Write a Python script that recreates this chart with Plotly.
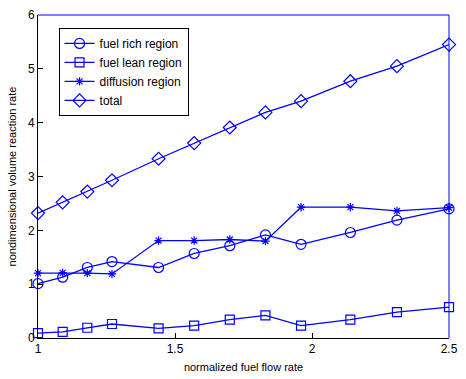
import plotly.graph_objects as go

x = [1.0, 1.09, 1.18, 1.27, 1.44, 1.57, 1.70, 1.83, 1.96, 2.14, 2.31, 2.5]
fuel_rich = [1.01, 1.13, 1.31, 1.42, 1.31, 1.57, 1.715, 1.915, 1.74, 1.96, 2.19, 2.40]
fuel_lean = [0.09, 0.115, 0.19, 0.26, 0.18, 0.23, 0.34, 0.42, 0.23, 0.34, 0.48, 0.575]
diffusion = [1.205, 1.21, 1.205, 1.19, 1.81, 1.81, 1.83, 1.80, 2.43, 2.43, 2.36, 2.42]
total = [2.32, 2.52, 2.72, 2.93, 3.33, 3.62, 3.91, 4.19, 4.40, 4.77, 5.05, 5.45]

names = ["fuel rich region", "fuel lean region", "diffusion region", "total"]
series = [fuel_rich, fuel_lean, diffusion, total]
symbols = ["circle-open", "square-open", "asterisk-open", "diamond-open"]
sizes = [10, 9, 7, 10]

blue = "#0000ff"
fig = go.Figure()
for n, s, sym, sz in zip(names, series, symbols, sizes):
    fig.add_trace(go.Scatter(
        x=x, y=s, name=n, mode="lines+markers", cliponaxis=False,
        line=dict(color=blue, width=1.3),
        marker=dict(symbol=sym, size=sz, color=blue, line=dict(color=blue, width=1.2)),
    ))

fig.update_layout(
    width=466, height=379,
    margin=dict(l=38, r=8, t=12, b=36),
    paper_bgcolor="white", plot_bgcolor="white",
    font=dict(family="Liberation Sans, Arial, sans-serif", size=12, color="black"),
    showlegend=True,
    legend=dict(x=0.05, y=0.96, xanchor="left", yanchor="top",
                bordercolor="black", borderwidth=1, bgcolor="white",
                font=dict(size=12), tracegroupgap=0, itemsizing="trace"),
    xaxis=dict(range=[1, 2.5], tickvals=[1, 1.5, 2, 2.5], ticktext=["1", "1.5", "2", "2.5"],
               ticks="inside", ticklen=5, tickcolor="black", showline=True, linecolor="black",
               linewidth=1, showgrid=False, zeroline=False, ticklabeloverflow="allow",
               title=dict(text="normalized fuel flow rate", standoff=7, font=dict(size=11))),
    yaxis=dict(range=[0, 6], tickvals=[0, 1, 2, 3, 4, 5, 6],
               ticks="inside", ticklen=5, tickcolor="black", showline=True, linecolor="black",
               linewidth=1, showgrid=False, zeroline=False, ticklabeloverflow="allow",
               title=dict(text="nondimensional volume reaction rate", standoff=9, font=dict(size=11))),
)
fig.add_shape(type="line", xref="paper", yref="paper", x0=0, x1=1, y0=1, y1=1,
              line=dict(color=blue, width=1))
fig.add_shape(type="line", xref="paper", yref="paper", x0=1, x1=1, y0=0, y1=1,
              line=dict(color=blue, width=1))

fig.write_html("out.html", config={"displayModeBar": False},
               post_script="document.body.style.margin='0';document.body.style.overflow='hidden';")
